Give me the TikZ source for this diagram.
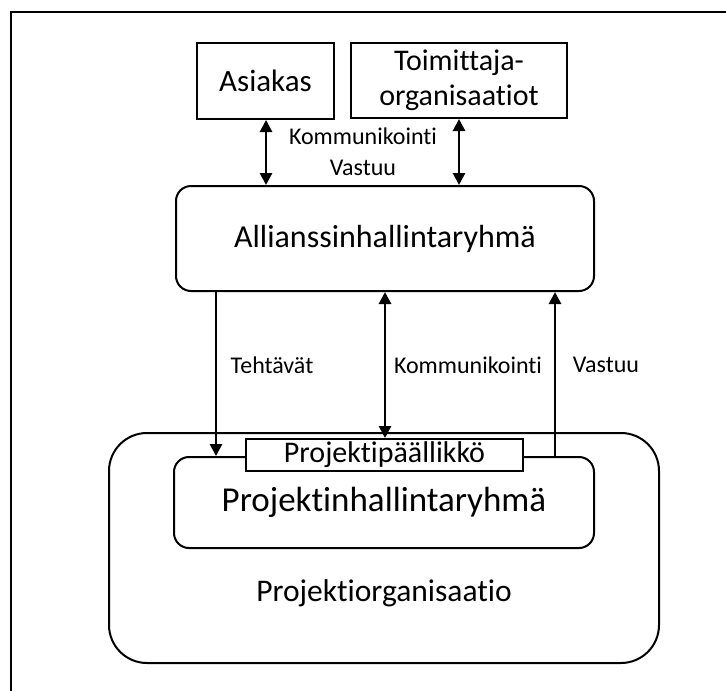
\documentclass[tikz,border=0pt]{standalone}
\usepackage{fontspec}
\setmainfont{Carlito}[Ligatures={NoCommon}]
\usetikzlibrary{arrows.meta, positioning}

\tikzset{
  box/.style={draw, line width=2pt, inner sep=0pt, align=center},
  roundbox/.style={box, rounded corners=15pt},
  link/.style={line width=2.8pt, -{Triangle[length=12pt, width=12pt]}},
  twolink/.style={line width=2.8pt, {Triangle[length=12pt, width=12pt]}-{Triangle[length=12pt, width=12pt]}},
  lbl/.style={font=\fontsize{24}{31}\selectfont, align=center}
}

\begin{document}
\begin{tikzpicture}[x=1pt, y=-1pt]
			\useasboundingbox (0,0) rectangle (726,691);

			% Draw the frame
			\draw[line width=2pt] (11,691) -- (11,12) -- (726,12);

			% Draw the top boxes
			\node[box, minimum width=137pt, minimum height=76pt, font=\fontsize{31}{31}\selectfont] (asiakas) at (265.5, 81) {Asiakas};
			\node[box, minimum width=216pt, minimum height=75pt, font=\fontsize{30}{35}\selectfont] (toimittaja) at (459, 80.5) {Toimittaja-\\organisaatiot};

			% Draw the alliance box
			\node[roundbox, minimum width=418pt, minimum height=105pt, font=\fontsize{32}{32}\selectfont] (allianssi) at (385, 238.5) {Allianssinhallintaryhmä};

			% Draw the project boxes
			\node[box, rounded corners=38pt, minimum width=550pt, minimum height=230pt] (organisaatio) at (384, 548) {};
			\node[lbl, font=\fontsize{31.5}{31.5}\selectfont] (orgtext) at (384, 593) {Projektiorganisaatio};
			\node[roundbox, minimum width=420pt, minimum height=91pt, font=\fontsize{35}{35}\selectfont] (phr) at (384, 502.5) {Projektinhallintaryhmä};
			\node[box, fill=white, minimum width=277pt, minimum height=32pt, font=\fontsize{30}{30}\selectfont] (paallikko) at (384.5, 455) {Projektipäällikkö};

			% Draw the arrows between the top boxes and the alliance box
			\draw[twolink] (266,0 |- asiakas.south) -- (266,0 |- allianssi.north);
			\draw[twolink] (toimittaja.south) -- (toimittaja.south |- allianssi.north);
			\node[lbl] (kv) at (363, 152) {Kommunikointi\\Vastuu};

			% Draw the arrows down to the project
			\draw[link] (216,0 |- allianssi.south) -- (216,0 |- phr.north);
			\draw[twolink] (allianssi.south) -- (allianssi.south |- paallikko.north);
			\draw[link] (555,0 |- phr.north) -- (555,0 |- allianssi.south);

			\node[lbl] (tehtavat) at (272, 365) {Tehtävät};
			\node[lbl] (kommunikointi) at (468, 365) {Kommunikointi};
			\node[lbl] (vastuu) at (606, 365) {Vastuu};

		\end{tikzpicture}
\end{document}
